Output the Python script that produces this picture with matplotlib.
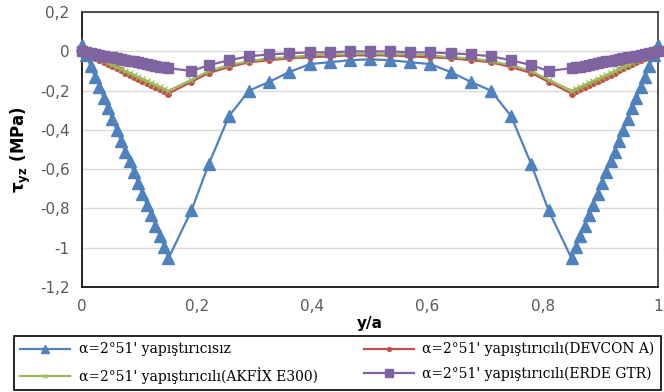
import matplotlib
matplotlib.use("Agg")
import matplotlib.pyplot as plt

# y/a positions: dense at both edges, coarser in the middle
y_over_a = [
    0.0, 0.0075, 0.015, 0.0225, 0.03, 0.0375, 0.045, 0.0525, 0.06, 0.0675, 0.075,
    0.0825, 0.09, 0.0975, 0.105, 0.1125, 0.12, 0.1275, 0.135, 0.1425, 0.15,
    0.19, 0.22, 0.255, 0.29, 0.325, 0.36, 0.395, 0.43, 0.465, 0.5,
    0.535, 0.57, 0.605, 0.64, 0.675, 0.71, 0.745, 0.78, 0.81,
    0.85, 0.8575, 0.865, 0.8725, 0.88, 0.8875, 0.895, 0.9025, 0.91, 0.9175, 0.925,
    0.9325, 0.94, 0.9475, 0.955, 0.9625, 0.97, 0.9775, 0.985, 0.9925, 1.0,
]

tau_plain = [
    0.035, -0.02, -0.075, -0.13, -0.18, -0.235, -0.29, -0.345, -0.40, -0.455, -0.51,
    -0.56, -0.615, -0.67, -0.725, -0.78, -0.835, -0.89, -0.94, -0.995, -1.055,
    -0.81, -0.575, -0.33, -0.20, -0.155, -0.105, -0.065, -0.055, -0.045, -0.04,
    -0.045, -0.055, -0.065, -0.105, -0.155, -0.20, -0.33, -0.575, -0.81,
    -1.055, -0.995, -0.94, -0.89, -0.835, -0.78, -0.725, -0.67, -0.615, -0.56, -0.51,
    -0.455, -0.40, -0.345, -0.29, -0.235, -0.18, -0.13, -0.075, -0.02, 0.035,
]

tau_devcon = [
    0.0, -0.011, -0.022, -0.032, -0.043, -0.054, -0.065, -0.075, -0.086, -0.097, -0.108,
    -0.118, -0.129, -0.14, -0.151, -0.161, -0.172, -0.183, -0.194, -0.204, -0.215,
    -0.155, -0.11, -0.08, -0.055, -0.045, -0.035, -0.03, -0.025, -0.02, -0.02,
    -0.02, -0.025, -0.03, -0.035, -0.045, -0.055, -0.08, -0.11, -0.155,
    -0.215, -0.204, -0.194, -0.183, -0.172, -0.161, -0.151, -0.14, -0.129, -0.118, -0.108,
    -0.097, -0.086, -0.075, -0.065, -0.054, -0.043, -0.032, -0.022, -0.011, 0.0,
]

tau_akfix = [
    0.0, -0.01, -0.02, -0.03, -0.04, -0.05, -0.06, -0.07, -0.08, -0.09, -0.10,
    -0.11, -0.12, -0.13, -0.14, -0.15, -0.16, -0.17, -0.18, -0.19, -0.20,
    -0.145, -0.10, -0.07, -0.05, -0.035, -0.03, -0.02, -0.015, -0.015, -0.01,
    -0.015, -0.015, -0.02, -0.03, -0.035, -0.05, -0.07, -0.10, -0.145,
    -0.20, -0.19, -0.18, -0.17, -0.16, -0.15, -0.14, -0.13, -0.12, -0.11, -0.10,
    -0.09, -0.08, -0.07, -0.06, -0.05, -0.04, -0.03, -0.02, -0.01, 0.0,
]

tau_erde = [
    0.0, -0.004, -0.009, -0.013, -0.017, -0.021, -0.026, -0.03, -0.034, -0.038, -0.043,
    -0.047, -0.051, -0.055, -0.06, -0.064, -0.068, -0.072, -0.077, -0.081, -0.085,
    -0.10, -0.07, -0.045, -0.025, -0.015, -0.01, -0.005, -0.005, 0.0, 0.0,
    0.0, -0.005, -0.005, -0.01, -0.015, -0.025, -0.045, -0.07, -0.10,
    -0.085, -0.081, -0.077, -0.072, -0.068, -0.064, -0.06, -0.055, -0.051, -0.047, -0.043,
    -0.038, -0.034, -0.03, -0.026, -0.021, -0.017, -0.013, -0.009, -0.004, 0.0,
]

labels = [
    "α=2°51' yapıştırıcısız",
    "α=2°51' yapıştırıcılı(DEVCON A)",
    "α=2°51' yapıştırıcılı(AKFİX E300)",
    "α=2°51' yapıştırıcılı(ERDE GTR)",
]

x_ticks = [0, 0.2, 0.4, 0.6, 0.8, 1.0]
x_tick_labels = ["0", "0,2", "0,4", "0,6", "0,8", "1"]
y_ticks = [-1.2, -1.0, -0.8, -0.6, -0.4, -0.2, 0.0, 0.2]
y_tick_labels = ["-1,2", "-1", "-0,8", "-0,6", "-0,4", "-0,2", "0", "0,2"]

fig = plt.figure(figsize=(6.64, 3.92), dpi=100)
ax = fig.add_axes([0.1235, 0.268, 0.8675, 0.701])

h_blue, = ax.plot(y_over_a, tau_plain, color="#4F81BD", lw=1.6, marker="^",
                  ms=8, clip_on=False, zorder=3)
h_red, = ax.plot(y_over_a, tau_devcon, color="#C0504D", lw=1.6, marker="o",
                 ms=4, clip_on=False, zorder=4)
h_green, = ax.plot(y_over_a, tau_akfix, color="#9BBB59", lw=1.6, marker="x",
                   ms=4.5, mew=0.8, clip_on=False, zorder=5)
h_purple, = ax.plot(y_over_a, tau_erde, color="#8064A2", lw=1.6, marker="s",
                    ms=7.5, clip_on=False, zorder=6)

ax.set_xlim(0, 1)
ax.set_ylim(-1.2, 0.2)
ax.set_xticks(x_ticks)
ax.set_xticklabels(x_tick_labels)
ax.set_yticks(y_ticks)
ax.set_yticklabels(y_tick_labels)
ax.tick_params(length=0, labelsize=11, labelcolor="#595959")
ax.tick_params(axis="y", pad=9)
ax.tick_params(axis="x", pad=9)
ax.grid(axis="y", color="#D9D9D9", lw=1)
ax.set_axisbelow(True)
for side in ["left", "bottom"]:
    ax.spines[side].set_color("#000000")
    ax.spines[side].set_linewidth(1.2)
for side in ["top", "right"]:
    ax.spines[side].set_color("#333333")
    ax.spines[side].set_linewidth(1.2)

ax.set_xlabel("y/a", fontsize=11, fontweight="bold", labelpad=1)
ax.set_ylabel("τ$_{\\mathbf{yz}}$ (MPa)", fontsize=12, fontweight="bold", labelpad=5)

leg = fig.legend([h_blue, h_green, h_red, h_purple],
                 [labels[0], labels[2], labels[1], labels[3]],
                 ncol=2, loc="lower left", mode="expand",
                 bbox_to_anchor=(14 / 664, 2 / 392, 647 / 664, 56 / 392),
                 prop={"family": "DejaVu Serif", "size": 10},
                 handlelength=3.6, handletextpad=0.6, borderpad=0.45,
                 labelspacing=0.75, markerscale=0.7, fancybox=False,
                 edgecolor="black", framealpha=1, borderaxespad=0)
leg.get_frame().set_linewidth(1.2)

fig.savefig("out.png", dpi=100)
